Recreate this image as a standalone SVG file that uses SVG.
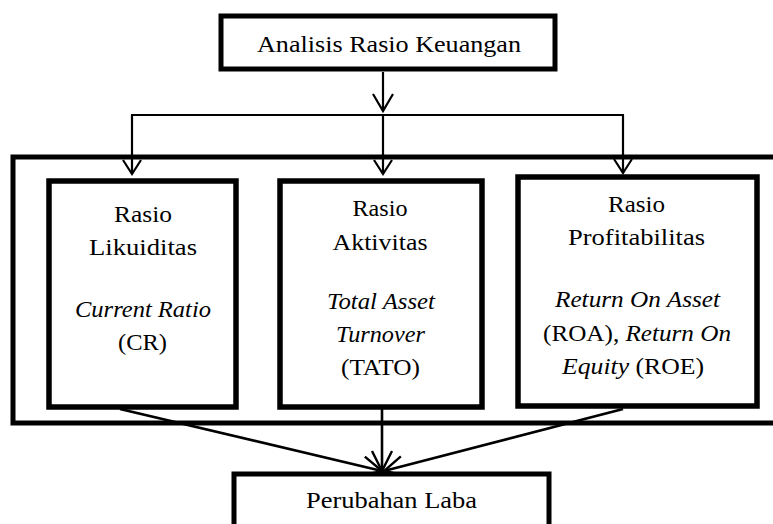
<svg xmlns="http://www.w3.org/2000/svg" width="773" height="524" viewBox="0 0 773 524">
<style>
.box{fill:#fff;stroke:#000;stroke-width:5.5}
.frame{fill:none;stroke:#000;stroke-width:5}
.t{font-family:"Liberation Serif","DejaVu Serif",serif;font-size:24px;fill:#000;text-anchor:middle}
.i{font-style:italic}
.c{fill:none;stroke:#000;stroke-width:2.2}
.cb{fill:none;stroke:#000;stroke-width:2.6}
</style>
<defs>
<marker id="arr" viewBox="-20 -12 22 24" refX="0" refY="0" markerWidth="22" markerHeight="24" markerUnits="userSpaceOnUse" orient="auto" overflow="visible">
<path d="M-17,-10 L0,0 L-17,10" fill="none" stroke="#000" stroke-width="2.2"/>
</marker>
<marker id="arrs" viewBox="-20 -12 22 24" refX="0" refY="0" markerWidth="22" markerHeight="24" markerUnits="userSpaceOnUse" orient="auto" overflow="visible">
<path d="M-14,-9 L0,0 L-14,9" fill="none" stroke="#000" stroke-width="2.2"/>
</marker>
<marker id="arrb" viewBox="-24 -14 26 28" refX="0" refY="0" markerWidth="26" markerHeight="28" markerUnits="userSpaceOnUse" orient="auto" overflow="visible">
<path d="M-20,-10 L0,0 L-20,10" fill="none" stroke="#000" stroke-width="2.4"/>
</marker>
</defs>
<rect width="773" height="524" fill="#fff"/>

<g id="frame">
<rect class="frame" x="13" y="157" width="800" height="266"/>
</g>

<g id="connectors">
<line class="c" x1="383" y1="72" x2="383" y2="111" marker-end="url(#arr)"/>
<line class="c" x1="131" y1="115" x2="624" y2="115" style="stroke-width:1.8"/>
<line class="c" x1="132" y1="115" x2="132" y2="174" marker-end="url(#arrs)"/>
<line class="c" x1="383" y1="115" x2="383" y2="174" marker-end="url(#arrs)"/>
<line class="c" x1="623" y1="115" x2="623" y2="173" marker-end="url(#arrs)"/>
<line class="cb" x1="120" y1="409" x2="382" y2="471" marker-end="url(#arrb)"/>
<line class="cb" x1="382" y1="409" x2="382" y2="471" marker-end="url(#arrb)"/>
<line class="cb" x1="623" y1="409" x2="384" y2="471" marker-end="url(#arrb)"/>
</g>

<g id="analisis">
<rect class="box" x="221" y="16" width="334" height="53" style="stroke-width:5"/>
<text class="t" x="389" y="51.5" textLength="264" lengthAdjust="spacingAndGlyphs">Analisis Rasio Keuangan</text>
</g>

<g id="likuiditas">
<rect class="box" x="49" y="181" width="187" height="226"/>
<text class="t" x="143" y="222" textLength="58" lengthAdjust="spacingAndGlyphs">Rasio</text>
<text class="t" x="143" y="255" textLength="108" lengthAdjust="spacingAndGlyphs">Likuiditas</text>
<text class="t i" x="143" y="317" textLength="136" lengthAdjust="spacingAndGlyphs">Current Ratio</text>
<text class="t" x="142.5" y="350" textLength="49" lengthAdjust="spacingAndGlyphs">(CR)</text>
</g>

<g id="aktivitas">
<rect class="box" x="280" y="181" width="202" height="226"/>
<text class="t" x="380" y="216" textLength="55" lengthAdjust="spacingAndGlyphs">Rasio</text>
<text class="t" x="380" y="250" textLength="95" lengthAdjust="spacingAndGlyphs">Aktivitas</text>
<text class="t i" x="381" y="309" textLength="108" lengthAdjust="spacingAndGlyphs">Total Asset</text>
<text class="t i" x="380.5" y="342" textLength="89" lengthAdjust="spacingAndGlyphs">Turnover</text>
<text class="t" x="380.5" y="375" textLength="79" lengthAdjust="spacingAndGlyphs">(TATO)</text>
</g>

<g id="profitabilitas">
<rect class="box" x="518" y="177" width="239" height="229"/>
<text class="t" x="636.5" y="212" textLength="57" lengthAdjust="spacingAndGlyphs">Rasio</text>
<text class="t" x="636.5" y="245" textLength="137" lengthAdjust="spacingAndGlyphs">Profitabilitas</text>
<text class="t i" x="637.5" y="307" textLength="165" lengthAdjust="spacingAndGlyphs">Return On Asset</text>
<text class="t" x="637" y="341" textLength="188" lengthAdjust="spacingAndGlyphs">(ROA), <tspan class="i">Return On</tspan></text>
<text class="t" x="633" y="374" textLength="142" lengthAdjust="spacingAndGlyphs"><tspan class="i">Equity</tspan> (ROE)</text>
</g>

<g id="perubahan">
<rect class="box" x="234" y="474" width="315" height="80" style="stroke-width:5"/>
<text class="t" x="391.5" y="508" textLength="171" lengthAdjust="spacingAndGlyphs">Perubahan Laba</text>
</g>
</svg>
